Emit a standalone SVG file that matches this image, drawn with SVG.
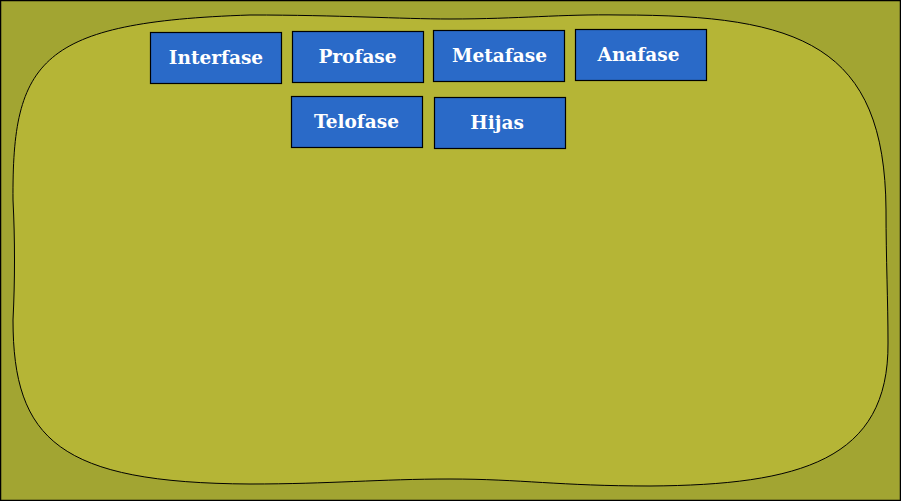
<svg xmlns="http://www.w3.org/2000/svg" width="901" height="501" viewBox="0 0 901 501">
<style>
.node rect{fill:#2A6AC8;stroke:#000;stroke-width:1.2}
.node text{fill:#fff;font-family:"DejaVu Serif","Liberation Serif",serif;font-weight:bold;font-size:18.5px;text-anchor:middle}
</style>
<rect x="0.5" y="0.5" width="900" height="500" fill="#A2A532" stroke="#000" stroke-width="1.5"/>
<path id="cell" d="M 13 200 C 12 60, 40 22, 250 15 C 340 15, 400 19, 450 19 C 520 19, 560 14, 620 15 C 800 15, 885 45, 886 210 C 886 260, 888 300, 888 343 C 889 460, 800 485, 650 486 C 560 486, 520 479, 450 479 C 380 479, 330 484, 250 484 C 60 483, 13 440, 13 320 C 15 280, 15 240, 13 200 Z" fill="#B5B536" stroke="#000" stroke-width="1"/>
<g id="connectors"></g>
<g id="interfase" class="node"><rect x="150.5" y="32.5" width="131" height="51"/><text x="216" y="64">Interfase</text></g>
<g id="profase" class="node"><rect x="292.5" y="31.5" width="131" height="51"/><text x="357.5" y="63">Profase</text></g>
<g id="metafase" class="node"><rect x="433.5" y="30.5" width="131" height="51"/><text x="499.5" y="62">Metafase</text></g>
<g id="anafase" class="node"><rect x="575.5" y="29.5" width="131" height="51"/><text x="638.5" y="61">Anafase</text></g>
<g id="telofase" class="node"><rect x="291.5" y="96.5" width="131" height="51"/><text x="356.5" y="128">Telofase</text></g>
<g id="hijas" class="node"><rect x="434.5" y="97.5" width="131" height="51"/><text x="497" y="129">Hijas</text></g>
</svg>
